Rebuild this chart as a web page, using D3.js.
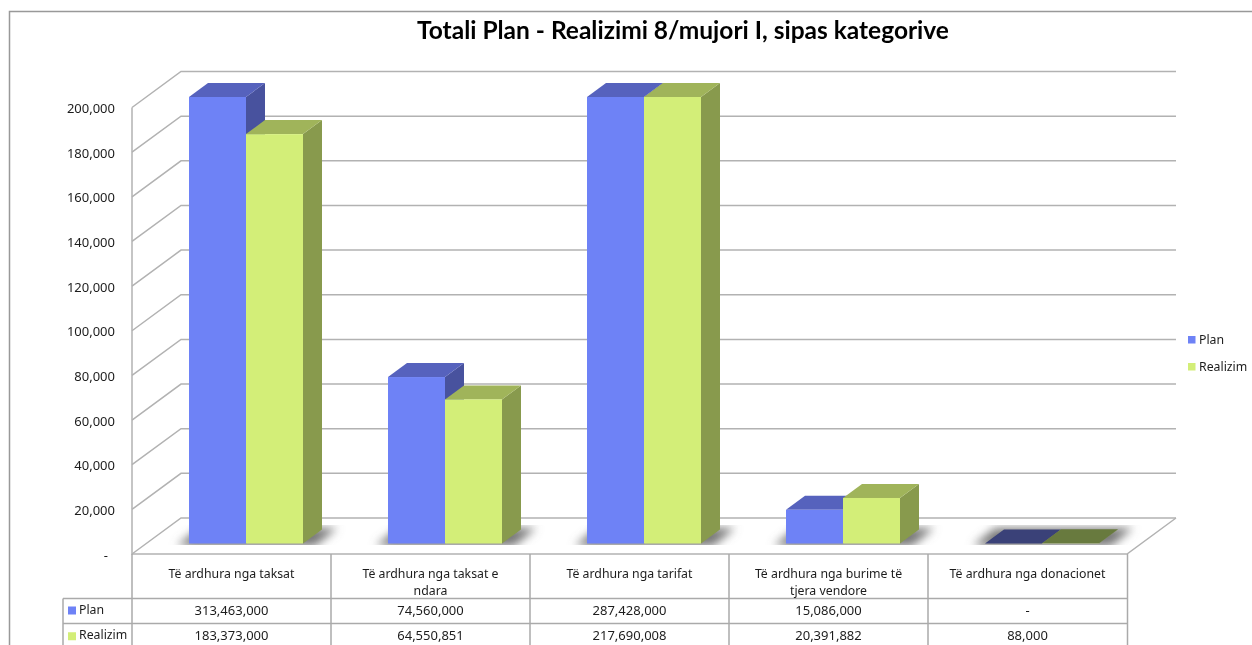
<!DOCTYPE html>
<html>
<head>
<meta charset="utf-8">
<script src="https://cdn.jsdelivr.net/npm/d3@7"></script>
<style>
  html, body { margin: 0; padding: 0; background: #fff; overflow: hidden; }
  svg { filter: blur(0.3px); }
  text { font-family: "Noto Sans", sans-serif; font-size: 12.3px; fill: #1c1c1c; }
</style>
</head>
<body>
<div id="chart"></div>
<script>
const width = 1252;
const height = 645;

// Data
const categories = [
    ['Të ardhura nga taksat'],
    ['Të ardhura nga taksat e', 'ndara'],
    ['Të ardhura nga tarifat'],
    ['Të ardhura nga burime të', 'tjera vendore'],
    ['Të ardhura nga donacionet']
];
const seriesNames = ['Plan', 'Realizim'];
const planValues = [313463000, 74560000, 287428000, 15086000, 0];
const realizimValues = [183373000, 64550851, 217690008, 20391882, 88000];
const yTicks = [0, 20000000, 40000000, 60000000, 80000000, 100000000, 120000000, 140000000, 160000000, 180000000, 200000000];

// Colors
const frontColors = ['#6e82f6', '#d3ee78'];
const topColors = ['#5662bd', '#a0b45a'];
const sideColors = ['#48529e', '#889a4d'];
const flatColors = ['#3a4178', '#687a3e'];

// Depth of the 3d box and of the bars
const wallDx = 49, wallDy = 36;
const barDx = 19, barDy = 14;

// Scales
const x = d3.scaleBand().domain(d3.range(categories.length)).range([132, 1127]);
const xSeries = d3.scaleBand().domain(d3.range(seriesNames.length)).range([57, 171]);
const yWall = d3.scaleLinear().domain([0, 200000000]).range([554, 107.5]);
const yBar = d3.scaleLinear().domain([0, 200000000]).range([543.5, 97]).clamp(true);

const svg = d3.select('#chart')
    .append('svg')
    .attr('width', width)
    .attr('height', height)
    .style('display', 'block');

const defs = svg.append('defs');
defs.append('filter')
    .attr('id', 'soft')
    .attr('x', '-20%').attr('y', '-60%').attr('width', '140%').attr('height', '220%')
    .append('feGaussianBlur')
    .attr('stdDeviation', 5);
defs.append('clipPath')
    .attr('id', 'floorClip')
    .append('rect')
    .attr('x', 132).attr('y', 525).attr('width', 1044).attr('height', 20);

// Outer frame, cut by the window on the right and at the bottom
svg.append('path')
    .attr('d', `M9.5,${height} V11.5 H${width}`)
    .attr('fill', 'none')
    .attr('stroke', '#999')
    .attr('stroke-width', 1.5);

svg.append('text')
    .attr('x', 683)
    .attr('y', 39)
    .attr('text-anchor', 'middle')
    .style('font-family', 'Lato')
    .style('font-weight', 700)
    .style('font-size', '24.5px')
    .style('fill', '#000')
    .text('Totali Plan - Realizimi 8/mujori I, sipas kategorive');

// Grid lines on the walls
const grid = svg.append('g')
    .attr('fill', 'none')
    .attr('stroke', '#b2b2b2')
    .attr('stroke-width', 1.5);

grid.selectAll('path.wall')
    .data(yTicks)
    .enter().append('path')
    .attr('class', 'wall')
    .attr('d', d => `M132,${yWall(d)} L${132 + wallDx},${yWall(d) - wallDy} H1176`);

// Floor and left edge
grid.append('path')
    .attr('d', `M1176,${yWall(0) - wallDy} L1127,${yWall(0)} H132 V${yWall(200000000)}`);

// Y axis labels
const yAxis = d3.axisLeft(yWall)
    .tickValues(yTicks)
    .tickSize(0)
    .tickPadding(17)
    .tickFormat(d => d === 0 ? '-' : d3.format(',')(d / 1000));

svg.append('g')
    .attr('transform', 'translate(132,1)')
    .call(yAxis)
    .call(g => g.select('.domain').remove())
    .selectAll('text')
    .attr('dx', d => d === 0 ? -7 : 0)
    .style('font-family', '"Noto Sans"')
    .style('font-size', '13px')
    .style('fill', '#1c1c1c');

// Shadows on the floor
svg.append('g')
    .attr('clip-path', 'url(#floorClip)')
    .selectAll('path')
    .data(categories)
    .enter().append('path')
    .attr('d', (d, i) => {
        const l = x(i) + xSeries(0);
        const r = x(i) + xSeries(1) + xSeries.bandwidth();
        return `M${l - 12},546 L${l + 10},528 H${r + 34} L${r + 12},546 Z`;
    })
    .attr('fill', '#777')
    .attr('filter', 'url(#soft)');

// Bars
const groups = svg.selectAll('g.group')
    .data(categories)
    .enter().append('g')
    .attr('class', 'group');

const seriesValues = [planValues, realizimValues];

seriesNames.forEach((name, s) => {
    const bw = xSeries.bandwidth();
    const bars = groups.append('g').attr('class', 'bar');
    const bx = (d, i) => x(i) + xSeries(s);
    const top = (d, i) => yBar(seriesValues[s][i]);
    const base = yBar(0);

    bars.append('path')
        .attr('fill', sideColors[s])
        .attr('d', (d, i) => {
            const r = bx(d, i) + bw, t = top(d, i);
            return `M${r},${base} V${t} L${r + barDx},${t - barDy} V${base - barDy} Z`;
        });

    bars.append('path')
        .attr('fill', (d, i) => base - top(d, i) < 2 ? flatColors[s] : topColors[s])
        .attr('d', (d, i) => {
            const l = bx(d, i), t = top(d, i);
            return `M${l},${t} L${l + barDx},${t - barDy} H${l + bw + barDx} L${l + bw},${t} Z`;
        });

    bars.append('rect')
        .attr('fill', frontColors[s])
        .attr('x', bx)
        .attr('y', top)
        .attr('width', bw)
        .attr('height', (d, i) => base - top(d, i));
});

// Data table
const tableColor = '#aaa';
const rowY = [554, 598.5, 623.5, 650];
const table = svg.append('g')
    .attr('fill', 'none')
    .attr('stroke', tableColor)
    .attr('stroke-width', 1.5);

table.selectAll('path.col')
    .data(d3.range(categories.length + 1))
    .enter().append('path')
    .attr('class', 'col')
    .attr('d', i => `M${i === categories.length ? 1127.5 : x(i)},554 V${height}`);

table.append('path').attr('d', `M63,${rowY[1]} H1128 M63,${rowY[2]} H1128 M63,${rowY[1]} V${height}`);

// Category labels
const catLabels = svg.selectAll('text.cat')
    .data(categories)
    .enter().append('text')
    .attr('class', 'cat')
    .attr('text-anchor', 'middle')
    .attr('x', (d, i) => x(i) + x.bandwidth() / 2)
    .attr('y', 578);

catLabels.selectAll('tspan')
    .data(d => d)
    .enter().append('tspan')
    .attr('x', function() { return this.parentNode.getAttribute('x'); })
    .attr('dy', (d, i) => i === 0 ? 0 : 17)
    .text(d => d);

// Value rows
seriesNames.forEach((name, s) => {
    const y = (rowY[s + 1] + rowY[s + 2]) / 2 + 3.5;

    svg.append('rect')
        .attr('x', 68).attr('y', y - 8)
        .attr('width', 8).attr('height', 8)
        .attr('fill', frontColors[s]);

    svg.append('text')
        .attr('x', 79).attr('y', y - 1)
        .text(name);

    svg.selectAll(`text.val${s}`)
        .data(seriesValues[s])
        .enter().append('text')
        .attr('class', `val${s}`)
        .attr('text-anchor', 'middle')
        .attr('x', (d, i) => x(i) + x.bandwidth() / 2)
        .attr('y', y)
        .style('font-size', '13px')
        .text(d => d === 0 ? '-' : d3.format(',')(d));
});

// Legend
const legend = svg.selectAll('g.legend')
    .data(seriesNames)
    .enter().append('g')
    .attr('class', 'legend')
    .attr('transform', (d, i) => `translate(1188,${336 + i * 27})`);

legend.append('rect')
    .attr('width', 7.5)
    .attr('height', 7.5)
    .attr('fill', (d, i) => frontColors[i]);

legend.append('text')
    .attr('x', 11)
    .attr('y', 8)
    .text(d => d);
</script>
</body>
</html>
